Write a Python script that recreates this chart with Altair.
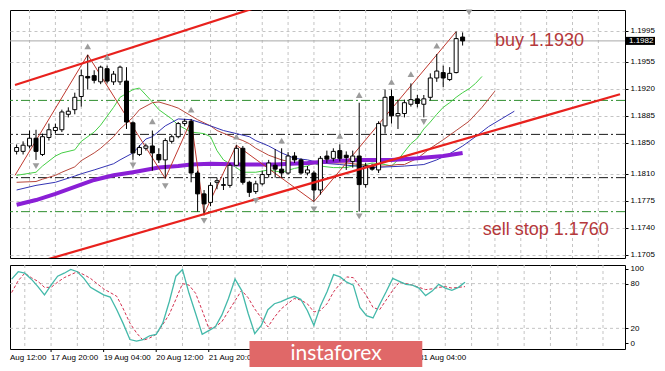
import altair as alt
import pandas as pd

# ---------------- data ----------------
bar_index = list(range(70))
opens = [1.1839, 1.1839, 1.1846, 1.1856, 1.1835, 1.1857, 1.1866, 1.1867, 1.1887, 1.1893,
         1.1910, 1.1936, 1.1937, 1.1929, 1.1946, 1.1929, 1.1929, 1.1930, 1.1876, 1.1835,
         1.1843, 1.1846, 1.1835, 1.1828, 1.1852, 1.1858, 1.1875, 1.1878, 1.1811, 1.1784,
         1.1773, 1.1799, 1.1795, 1.1795, 1.1821, 1.1843, 1.1799, 1.1787, 1.1797, 1.1809,
         1.1821, 1.1816, 1.1811, 1.1833, 1.1828, 1.1811, 1.1811, 1.1789, 1.1833, 1.1830,
         1.1840, 1.1834, 1.1826, 1.1833, 1.1796, 1.1819, 1.1815, 1.1872, 1.1910, 1.1885,
         1.1888, 1.1900, 1.1907, 1.1900, 1.1909, 1.1934, 1.1941, 1.1932, 1.1941, 1.1987]
highs = [1.1848, 1.1852, 1.1866, 1.1867, 1.1862, 1.1875, 1.1875, 1.1893, 1.1896, 1.1915,
         1.1945, 1.1964, 1.1944, 1.1950, 1.1950, 1.1943, 1.1950, 1.1948, 1.1878, 1.1847,
         1.1849, 1.1866, 1.1843, 1.1856, 1.1861, 1.1877, 1.1881, 1.1881, 1.1814, 1.1789,
         1.1799, 1.1805, 1.1805, 1.1824, 1.1847, 1.1846, 1.1801, 1.1801, 1.1814, 1.1828,
         1.1842, 1.1843, 1.1838, 1.1838, 1.1830, 1.1820, 1.1814, 1.1833, 1.1840, 1.1843,
         1.1848, 1.1839, 1.1840, 1.1902, 1.1824, 1.1823, 1.1878, 1.1919, 1.1919, 1.1906,
         1.1906, 1.1927, 1.1912, 1.1912, 1.1940, 1.1965, 1.1950, 1.1948, 1.1994, 1.1993]
lows = [1.1835, 1.1835, 1.1843, 1.1828, 1.1833, 1.1853, 1.1862, 1.1864, 1.1883, 1.1887,
        1.1897, 1.1919, 1.1927, 1.1926, 1.1927, 1.1925, 1.1925, 1.1868, 1.1828, 1.1833,
        1.1840, 1.1814, 1.1824, 1.1804, 1.1849, 1.1856, 1.1872, 1.1799, 1.1761, 1.1756,
        1.1768, 1.1790, 1.1789, 1.1792, 1.1820, 1.1796, 1.1780, 1.1784, 1.1795, 1.1805,
        1.1805, 1.1805, 1.1809, 1.1824, 1.1809, 1.1808, 1.1774, 1.1783, 1.1824, 1.1826,
        1.1826, 1.1815, 1.1818, 1.1761, 1.1792, 1.1814, 1.1811, 1.1862, 1.1875, 1.1868,
        1.1883, 1.1897, 1.1896, 1.1883, 1.1905, 1.1929, 1.1922, 1.1930, 1.1940, 1.1976]
closes = [1.1844, 1.1847, 1.1856, 1.1839, 1.1858, 1.1867, 1.1870, 1.1890, 1.1891, 1.1909,
          1.1937, 1.1934, 1.1931, 1.1948, 1.1930, 1.1939, 1.1948, 1.1877, 1.1837, 1.1844,
          1.1846, 1.1837, 1.1828, 1.1853, 1.1858, 1.1875, 1.1878, 1.1811, 1.1784, 1.1771,
          1.1795, 1.1801, 1.1796, 1.1821, 1.1843, 1.1799, 1.1786, 1.1797, 1.1809, 1.1824,
          1.1816, 1.1811, 1.1833, 1.1828, 1.1811, 1.1815, 1.1789, 1.1830, 1.1829, 1.1839,
          1.1830, 1.1831, 1.1833, 1.1796, 1.1820, 1.1816, 1.1875, 1.1909, 1.1885, 1.1888,
          1.1902, 1.1906, 1.1901, 1.1907, 1.1934, 1.1943, 1.1934, 1.1940, 1.1985, 1.1982]

green_i = [0, 3, 4, 6, 7, 9, 10, 12, 13, 15, 16, 18, 19, 21, 22, 24, 25, 27, 29, 30,
           31, 32, 34, 35, 37, 39, 41, 43, 45, 46, 47, 49, 51, 52, 54, 55, 57, 58, 59, 61,
           62, 63, 64, 65, 66, 67, 68, 69, 70, 71, 72]
green_p = [1.1808, 1.1812, 1.1820, 1.1833, 1.1837, 1.1841, 1.1852, 1.1864, 1.1873, 1.1896,
           1.1909, 1.1919, 1.1921, 1.1903, 1.1893, 1.1881, 1.1873, 1.1864, 1.1862, 1.1858,
           1.1840, 1.1828, 1.1818, 1.1812, 1.1812, 1.1815, 1.1812, 1.1817, 1.1820, 1.1824,
           1.1820, 1.1818, 1.1818, 1.1820, 1.1822, 1.1824, 1.1822, 1.1820, 1.1828, 1.1849,
           1.1856, 1.1868, 1.1877, 1.1887, 1.1896, 1.1902, 1.1909, 1.1915, 1.1920, 1.1927,
           1.1936]
brown_i = [0, 3, 4, 6, 7, 9, 10, 12, 13, 15, 16, 18, 19, 21, 22, 24, 25, 27, 28, 30,
           31, 33, 35, 36, 37, 39, 41, 43, 45, 47, 49, 51, 53, 55, 57, 59, 60, 62, 64, 66,
           68, 70, 72, 74]
brown_p = [1.1799, 1.1800, 1.1803, 1.1808, 1.1812, 1.1819, 1.1827, 1.1837, 1.1843, 1.1858,
           1.1868, 1.1883, 1.1893, 1.1902, 1.1903, 1.1898, 1.1895, 1.1885, 1.1880, 1.1872,
           1.1866, 1.1859, 1.1853, 1.1849, 1.1843, 1.1834, 1.1828, 1.1824, 1.1822, 1.1824,
           1.1824, 1.1824, 1.1822, 1.1820, 1.1820, 1.1822, 1.1822, 1.1830, 1.1843, 1.1854,
           1.1866, 1.1878, 1.1896, 1.1917]
blue_i = [0, 3, 6, 9, 10, 12, 15, 16, 18, 20, 21, 23, 25, 27, 30, 32, 34, 36, 37, 39,
          41, 43, 45, 47, 50, 55, 60, 63, 65, 67, 69, 71, 73, 75, 77]
blue_p = [1.1789, 1.1795, 1.1799, 1.1807, 1.1810, 1.1815, 1.1823, 1.1828, 1.1837, 1.1855,
          1.1858, 1.1872, 1.1881, 1.1880, 1.1872, 1.1866, 1.1862, 1.1858, 1.1853, 1.1846,
          1.1837, 1.1830, 1.1828, 1.1824, 1.1822, 1.1818, 1.1820, 1.1822, 1.1828, 1.1836,
          1.1846, 1.1858, 1.1871, 1.1881, 1.1891]
purple_i = [0, 3, 6, 9, 12, 15, 18, 22, 25, 27, 30, 35, 40, 45, 50, 53, 58, 62, 66, 69]
purple_p = [1.1770, 1.1776, 1.1784, 1.1793, 1.1802, 1.1808, 1.1812, 1.1818, 1.1820, 1.1822,
            1.1823, 1.1822, 1.1822, 1.1824, 1.1827, 1.1828, 1.1828, 1.1830, 1.1833, 1.1837]

zigzag_i = [-0.25, 11, 23, 27, 29, 34, 46, 68]
zigzag_p = [1.1808, 1.1964, 1.1804, 1.1879, 1.1758, 1.1847, 1.1774, 1.1994]

fractal_up_i = [11, 14, 21, 27, 34, 41, 50, 53, 58, 61, 65]
fractal_up_p = [1.1975, 1.1961, 1.1878, 1.1893, 1.1858, 1.1853, 1.1859, 1.1912, 1.1929, 1.1939, 1.1976]
fractal_dn_i = [3, 18, 23, 29, 37, 46, 53, 63, 70]
fractal_dn_p = [1.1820, 1.1821, 1.1794, 1.1749, 1.1775, 1.1764, 1.1755, 1.1877, 1.2019]

level_p = [1.1905, 1.1861, 1.1805, 1.1761]
level_kind = ["green", "black", "black", "green"]

channel_name = ["upper", "upper", "lower", "lower"]
channel_i = [-0.25, 40, 3, 93.35]
channel_p = [1.1925, 1.2033, 1.1695, 1.1913]

bid_price = 1.1982

note_text = ["buy 1.1930", "sell stop 1.1760"]
note_i = [74.0, 72.1]
note_p = [1.1982, 1.1737]

stoch_main = [86, 96, 94, 86, 76, 65, 78, 90, 94, 99, 96, 87, 75, 70, 65, 62, 45, 26, 5, 3,
              5, 10, 12, 27, 56, 90, 99, 67, 40, 12, 17, 22, 38, 60, 86, 71, 40, 13, 24, 45,
              53, 56, 60, 63, 59, 44, 24, 50, 69, 92, 89, 82, 78, 48, 37, 34, 52, 69, 87, 83,
              79, 78, 74, 64, 70, 79, 74, 71, 75, 82]
stoch_signal = [68, 84, 94, 88, 83, 75, 75, 82, 88, 92, 96, 92, 87, 80, 73, 68, 63, 46, 27, 14,
                4, 7, 12, 25, 39, 59, 80, 78, 67, 44, 20, 22, 29, 43, 57, 71, 61, 46, 34, 22,
                35, 46, 53, 60, 58, 53, 42, 44, 53, 69, 80, 89, 88, 76, 64, 48, 45, 58, 71, 82,
                80, 78, 75, 72, 73, 75, 76, 74, 75, 76]

price_ticks = [1.1705, 1.1740, 1.1775, 1.1810, 1.1850, 1.1885, 1.1920, 1.1955, 1.1995]
osc_ticks = [0, 20, 80, 100]
osc_levels = [20, 80]
time_label_i = [-2, 6, 14, 22, 30, 38, 46, 54, 62]
time_labels = ["14 Aug 12:00", "17 Aug 20:00", "19 Aug 04:00", "20 Aug 12:00", "21 Aug 20:00",
               "25 Aug 04:00", "26 Aug 12:00", "27 Aug 20:00", "31 Aug 04:00"]
hidden_by_logo = [38, 46, 54]   # these labels sit completely under the logo in the picture
grid_i = list(range(2, 94, 4))

# ---------------- chart ----------------
W, H1, H2 = 615, 248, 84
FONT = "Liberation Sans"
GRID = "#c4c4c4"

xs = alt.Scale(domain=[-0.25, 93.35], nice=False, zero=False)
ys = alt.Scale(domain=[1.1701, 1.2022], nice=False, zero=False)
yax = alt.Axis(orient="right", values=price_ticks, format=".4f", grid=True, gridDash=[3, 3],
               gridColor=GRID, tickSize=3, labelPadding=2, domain=False, title=None, zindex=0)


def X(f):
    return alt.X(f, type="quantitative", scale=xs, axis=None)


def Y(f):
    return alt.Y(f, type="quantitative", scale=ys, axis=yax)


vgrid = alt.Chart(pd.DataFrame({"g": grid_i})).mark_rule(
    color=GRID, strokeDash=[3, 3], strokeWidth=1).encode(x=X("g"))

ldf = pd.DataFrame({"p": level_p, "k": level_kind})
levels = alt.Chart(ldf).mark_rule(strokeWidth=1, strokeDash=[9, 3, 2, 3]).encode(
    y=Y("p"),
    color=alt.Color("k:N", scale=alt.Scale(domain=["green", "black"], range=["#2f8f2f", "#1a1a1a"]), legend=None))

bid = alt.Chart(pd.DataFrame({"p": [bid_price]})).mark_rule(color="#a8a8a8", strokeWidth=1).encode(y=Y("p"))


def ma(ii, pp, color, w):
    return alt.Chart(pd.DataFrame({"i": ii, "p": pp})).mark_line(
        color=color, strokeWidth=w, clip=True).encode(x=X("i"), y=Y("p"))


green = ma(green_i, green_p, "#45cf45", 1)
brown = ma(brown_i, brown_p, "#b8473c", 1)
blue = ma(blue_i, blue_p, "#3434b4", 1)
purple = ma(purple_i, purple_p, "#8a1fd6", 4)
zz = ma(zigzag_i, zigzag_p, "#c0392f", 1)

cdf = pd.DataFrame({"i": bar_index, "o": opens, "h": highs, "l": lows, "c": closes})
cdf["dir"] = ["up" if c >= o else "down" for o, c in zip(opens, closes)]
wicks = alt.Chart(cdf).mark_rule(color="black", strokeWidth=1).encode(
    x=X("i"), y=Y("l"), y2=alt.Y2("h:Q"))
bodies = alt.Chart(cdf).mark_bar(width=4, stroke="black", strokeWidth=1).encode(
    x=X("i"), y=Y("o"), y2=alt.Y2("c:Q"),
    fill=alt.Fill("dir:N", scale=alt.Scale(domain=["up", "down"], range=["white", "black"]), legend=None))

chdf = pd.DataFrame({"k": channel_name, "i": channel_i, "p": channel_p})
channel = alt.Chart(chdf).mark_line(color="#e8211d", strokeWidth=2.2, clip=True).encode(
    x=X("i"), y=Y("p"), detail="k:N")

arr_up = alt.Chart(pd.DataFrame({"i": fractal_up_i, "p": fractal_up_p})).mark_point(
    shape="triangle-up", filled=True, size=45, color="#9c9c9c", opacity=1).encode(x=X("i"), y=Y("p"))
arr_dn = alt.Chart(pd.DataFrame({"i": fractal_dn_i, "p": fractal_dn_p})).mark_point(
    shape="triangle-down", filled=True, size=45, color="#9c9c9c", opacity=1).encode(x=X("i"), y=Y("p"))

notes = alt.Chart(pd.DataFrame({"t": note_text, "i": note_i, "p": note_p})).mark_text(
    font=FONT, fontSize=18, color="#b5383b", align="left", baseline="middle").encode(
    x=X("i"), y=Y("p"), text="t:N")

bdf = pd.DataFrame({"p": [bid_price]})
bdf["top"] = bdf["p"] + 0.00052
bdf["bot"] = bdf["p"] - 0.00052
box = alt.Chart(bdf).mark_rect(color="black").encode(
    x=alt.value(W + 1), x2=alt.value(W + 30), y=Y("top"), y2=alt.Y2("bot:Q"))
boxtxt = alt.Chart(bdf).mark_text(font=FONT, fontSize=8, color="white", align="left", baseline="middle").encode(
    x=alt.value(W + 4), y=Y("p"), text=alt.Text("p:Q", format=".4f"))

main = alt.layer(vgrid, levels, bid, green, brown, blue, purple, zz, wicks, bodies,
                 channel, arr_up, arr_dn, notes, box, boxtxt).properties(width=W, height=H1)

# ---- oscillator panel ----
oys = alt.Scale(domain=[-7.7, 105], nice=False, zero=False)
oyax = alt.Axis(orient="right", values=osc_ticks, grid=False, tickSize=3, labelPadding=2,
                domain=False, title=None, zindex=0)

sdf = pd.DataFrame({"i": bar_index, "k": stoch_main, "d": stoch_signal})

ovgrid = alt.Chart(pd.DataFrame({"g": grid_i})).mark_rule(
    color=GRID, strokeDash=[3, 3], strokeWidth=1).encode(x=X("g"))
ohgrid = alt.Chart(pd.DataFrame({"v": osc_levels})).mark_rule(
    color=GRID, strokeDash=[3, 3], strokeWidth=1).encode(
    y=alt.Y("v:Q", scale=oys, axis=oyax))
sig = alt.Chart(sdf).mark_line(color="#d3304f", strokeWidth=1, strokeDash=[3, 2]).encode(
    x=X("i"), y=alt.Y("d:Q", scale=oys, axis=oyax))
stk = alt.Chart(sdf).mark_line(color="#44b9aa", strokeWidth=1.3).encode(
    x=X("i"), y=alt.Y("k:Q", scale=oys, axis=oyax))

tdf = pd.DataFrame({"i": time_label_i[1:], "t": time_labels[1:]})
tdf = tdf[~tdf["i"].isin(hidden_by_logo)]
tticks = alt.Chart(tdf).mark_rule(color="black", strokeWidth=1).encode(
    x=X("i"), y=alt.value(H2), y2=alt.value(H2 + 3))
tlabels = alt.Chart(tdf).mark_text(font=FONT, fontSize=8, color="black", align="left",
                                   baseline="top").encode(
    x=X("i"), y=alt.value(H2 + 5), text="t:N")

one = pd.DataFrame({"a": [0]})
first_lbl = alt.Chart(one).mark_text(font=FONT, fontSize=8, color="black", align="left", baseline="top",
                                     text=time_labels[0].split(" ", 1)[1]).encode(
    x=alt.value(0), y=alt.value(H2 + 5))
logo = alt.Chart(one).mark_rect(color="#e06868").encode(
    x=alt.value(239.5), x2=alt.value(412.3), y=alt.value(H2 - 8), y2=alt.value(H2 + 18))
logo_txt = alt.Chart(one).mark_text(font="Lato", fontSize=21, color="white", align="center",
                                    baseline="middle", text="instaforex").encode(
    x=alt.value(326), y=alt.value(H2 + 5))

osc = alt.layer(ovgrid, ohgrid, sig, stk, tticks, tlabels, first_lbl, logo, logo_txt).properties(
    width=W, height=H2)

chart = alt.vconcat(main, osc, spacing=4).properties(
    padding={"left": 0, "top": 0, "right": 0, "bottom": 0}, background="white"
).configure_view(stroke="black", strokeWidth=1).configure_axis(
    labelFont=FONT, labelFontSize=8, labelColor="black", tickColor="black")

chart.save("out.html", embed_options={"renderer": "svg", "actions": False})
